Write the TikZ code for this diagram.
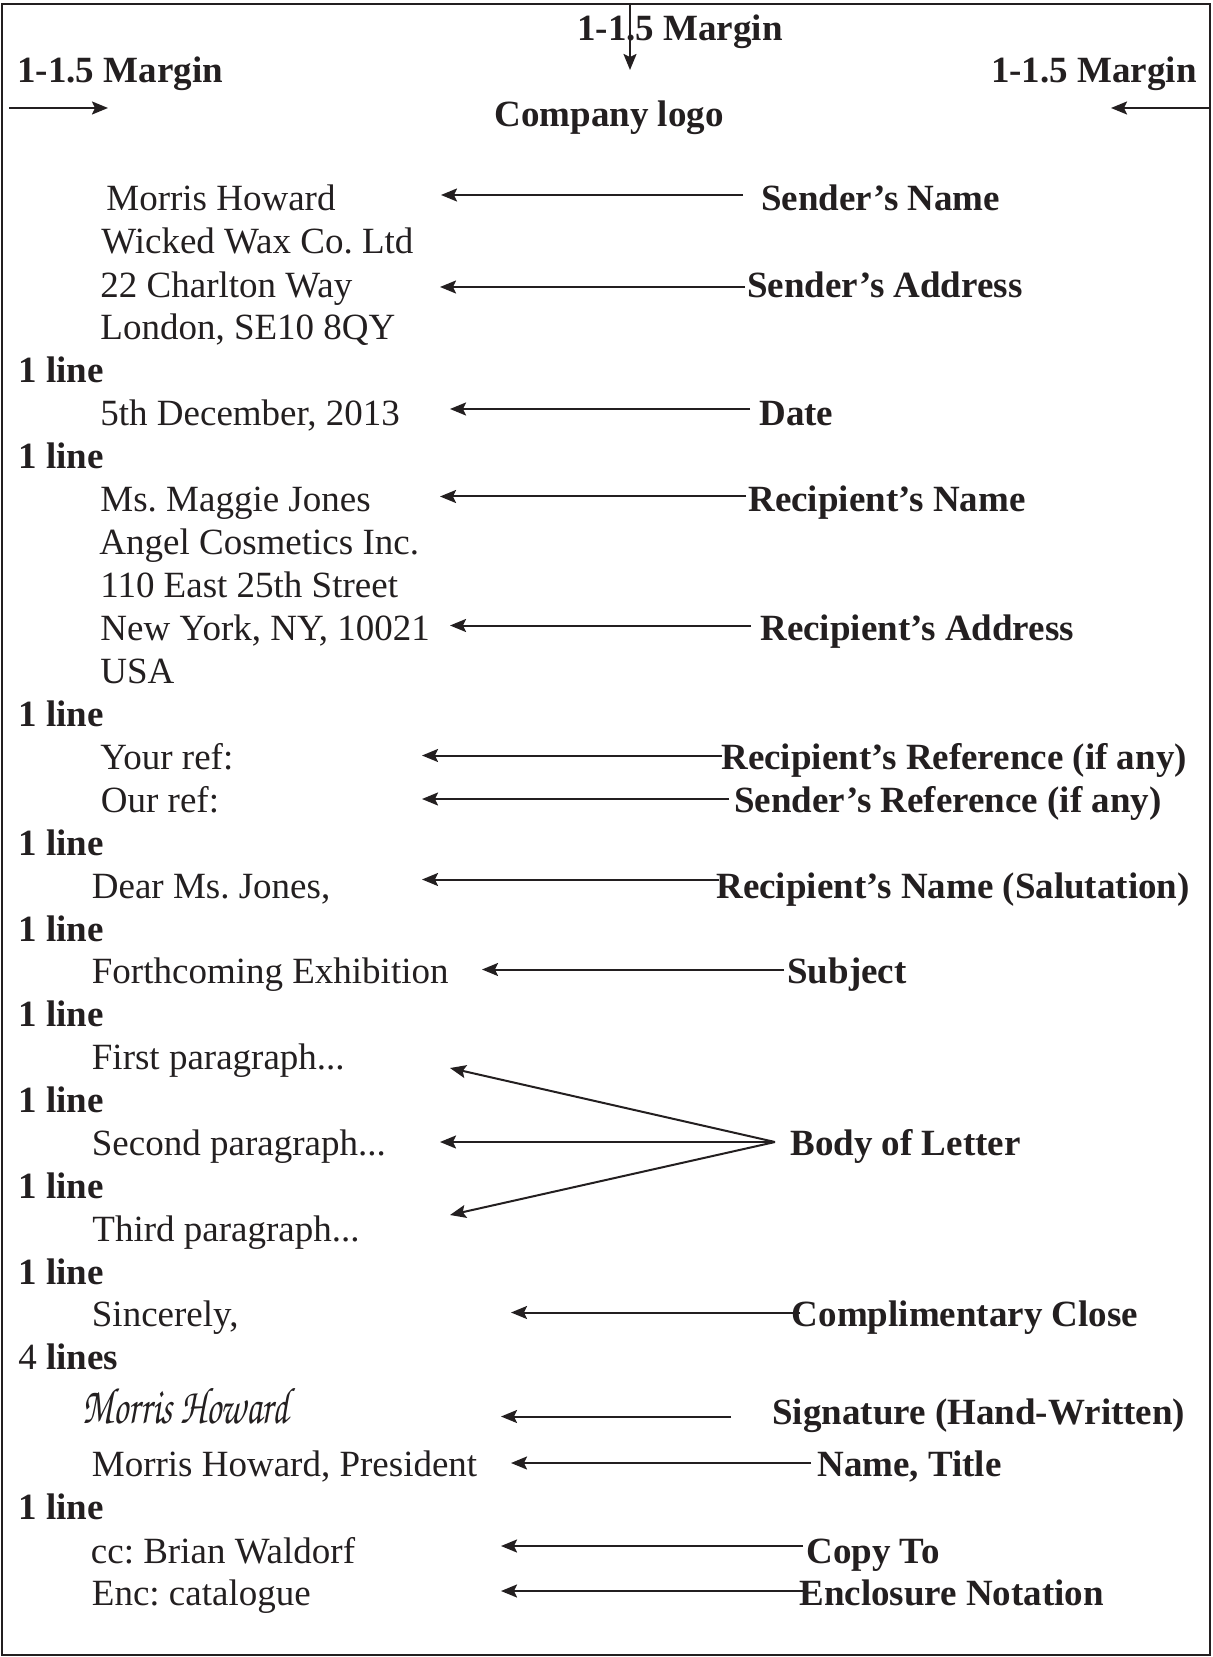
\documentclass[tikz,border=0pt]{standalone}
\usepackage{fontspec}
\setmainfont{Liberation Serif}
\newfontfamily\handfont{texgyrechorus-mediumitalic.otf}
\usetikzlibrary{arrows.meta}
\definecolor{ink}{HTML}{231F20}
\frenchspacing
\begin{document}
\begin{tikzpicture}[x=0.5pt,y=-0.5pt,
  txt/.style={font=\fontsize{18.5}{22}\selectfont, anchor=base west, inner sep=0pt, text=ink},
  lbl/.style={txt, font=\fontsize{18.5}{22}\selectfont\bfseries},
  arr/.style={draw=ink, line width=1pt, -{Stealth[length=8pt,width=6.5pt,inset=1.5pt]}}]
\useasboundingbox (0,0) rectangle (1212,1657);
% page frame
\draw[ink, line width=1.2pt] (2,4) rectangle (1210,1655);

% margins and logo
\node[lbl, anchor=base] (mtop) at (680,41) {1-1.5 Margin};
\node[lbl] (mleft) at (17,83) {1-1.5 Margin};
\node[lbl, anchor=base east] (mright) at (1197,83) {1-1.5 Margin};
\node[lbl, anchor=base] (logo) at (609,127) {Company logo};
\coordinate (mtopS) at (630,3);   \coordinate (mtopE) at (630,70);
\coordinate (mleftS) at (9,108);  \coordinate (mleftE) at (108,108);
\coordinate (mrightS) at (1210,108); \coordinate (mrightE) at (1111,108);
\draw[arr] (mtopS) -- (mtopE);
\draw[arr] (mleftS) -- (mleftE);
\draw[arr] (mrightS) -- (mrightE);

% letter body
\node[txt] (sname)  at (106,211)   {Morris Howard};
\node[txt] (scomp)  at (101,254)   {Wicked Wax Co. Ltd};
\node[txt] (saddr)  at (100,297.5) {22 Charlton Way};
\node[txt] (scity)  at (100,340)   {London, SE10 8QY};
\node[lbl] (gap1)   at (18,383)    {1 line};
\node[txt] (date)   at (100,426)   {5th December, 2013};
\node[lbl] (gap2)   at (18,469)    {1 line};
\node[txt] (rname)  at (100,512)   {Ms. Maggie Jones};
\node[txt] (rcomp)  at (99,554.5)  {Angel Cosmetics Inc.};
\node[txt] (rstreet) at (100,597.5) {110 East 25th Street};
\node[txt] (rcity)  at (100,640.5) {New York, NY, 10021};
\node[txt] (rctry)  at (100,683)   {USA};
\node[lbl] (gap3)   at (18,726)    {1 line};
\node[txt] (yref)   at (100,769)   {Your ref:};
\node[txt] (oref)   at (100.5,812) {Our ref:};
\node[lbl] (gap4)   at (18,855)    {1 line};
\node[txt] (salut)  at (91.5,898)  {Dear Ms. Jones,};
\node[lbl] (gap5)   at (18,941)    {1 line};
\node[txt] (subj)   at (91.5,983.5) {Forthcoming Exhibition};
\node[lbl] (gap6)   at (18,1026)   {1 line};
\node[txt] (para1)  at (91.5,1069) {First paragraph...};
\node[lbl] (gap7)   at (18,1112)   {1 line};
\node[txt] (para2)  at (91.5,1155) {Second paragraph...};
\node[lbl] (gap8)   at (18,1198)   {1 line};
\node[txt] (para3)  at (92,1241)   {Third paragraph...};
\node[lbl] (gap9)   at (18,1284)   {1 line};
\node[txt] (close)  at (91.5,1326.5) {Sincerely,};
\node[txt] (gap10)  at (18,1369)   {4 \textbf{lines}};
\node[txt] (sig)    at (82,1423)   {\resizebox{103pt}{17.5pt}{\handfont Morris Howard}};
\node[txt] (title)  at (91.5,1476) {Morris Howard, President};
\node[lbl] (gap11)  at (18,1519)   {1 line};
\node[txt] (cc)     at (90.5,1563) {cc: Brian Waldorf};
\node[txt] (enc)    at (91.5,1605.5) {Enc: catalogue};

% part labels
\node[lbl] (lsname) at (761,211)   {Sender’s Name};
\node[lbl] (lsaddr) at (747,297.5) {Sender’s Address};
\node[lbl] (ldate)  at (759,426)   {Date};
\node[lbl] (lrname) at (748,512)   {Recipient’s Name};
\node[lbl] (lraddr) at (760,640.5) {Recipient’s Address};
\node[lbl] (lyref)  at (721,769)   {Recipient’s Reference (if any)};
\node[lbl] (loref)  at (734,812)   {Sender’s Reference (if any)};
\node[lbl] (lsalut) at (716,898)   {Recipient’s Name (Salutation)};
\node[lbl] (lsubj)  at (787,983.5) {Subject};
\node[lbl] (lbody)  at (790,1155)  {Body of Letter};
\node[lbl] (lclose) at (791.5,1326.5) {Complimentary Close};
\node[lbl] (lsig)   at (772,1424)  {Signature (Hand-Written)};
\node[lbl] (ltitle) at (817,1476)  {Name, Title};
\node[lbl] (lcc)    at (806,1563)  {Copy To};
\node[lbl] (lenc)   at (799,1605.5) {Enclosure Notation};

% arrow ends
\coordinate (a1s) at (743,195);    \coordinate (a1e) at (441,195);
\coordinate (a2s) at (745,287);    \coordinate (a2e) at (440,287);
\coordinate (a3s) at (750,409);    \coordinate (a3e) at (450,409);
\coordinate (a4s) at (746,496.5);  \coordinate (a4e) at (440,496.5);
\coordinate (a5s) at (751,625.5);  \coordinate (a5e) at (450,625.5);
\coordinate (a6s) at (722,755.5);  \coordinate (a6e) at (422,755.5);
\coordinate (a7s) at (729,799);    \coordinate (a7e) at (422,799);
\coordinate (a8s) at (719,879.5);  \coordinate (a8e) at (422,879.5);
\coordinate (a9s) at (784,969.5);  \coordinate (a9e) at (482,969.5);
\coordinate (bodyS) at (775,1142);
\coordinate (b1e) at (450,1068);   \coordinate (b2e) at (440,1142);
\coordinate (b3e) at (450,1215);
\coordinate (a11s) at (800,1312.5); \coordinate (a11e) at (511,1312.5);
\coordinate (a12s) at (731,1416.5); \coordinate (a12e) at (501,1416.5);
\coordinate (a13s) at (811,1463);   \coordinate (a13e) at (511,1463);
\coordinate (a14s) at (803,1546);   \coordinate (a14e) at (501,1546);
\coordinate (a15s) at (803,1591);   \coordinate (a15e) at (501,1591);

\draw[arr] (a1s) -- (a1e);
\draw[arr] (a2s) -- (a2e);
\draw[arr] (a3s) -- (a3e);
\draw[arr] (a4s) -- (a4e);
\draw[arr] (a5s) -- (a5e);
\draw[arr] (a6s) -- (a6e);
\draw[arr] (a7s) -- (a7e);
\draw[arr] (a8s) -- (a8e);
\draw[arr] (a9s) -- (a9e);
\draw[arr] (bodyS) -- (b1e);
\draw[arr] (bodyS) -- (b2e);
\draw[arr] (bodyS) -- (b3e);
\draw[arr] (a11s) -- (a11e);
\draw[arr] (a12s) -- (a12e);
\draw[arr] (a13s) -- (a13e);
\draw[arr] (a14s) -- (a14e);
\draw[arr] (a15s) -- (a15e);
\end{tikzpicture}
\end{document}
